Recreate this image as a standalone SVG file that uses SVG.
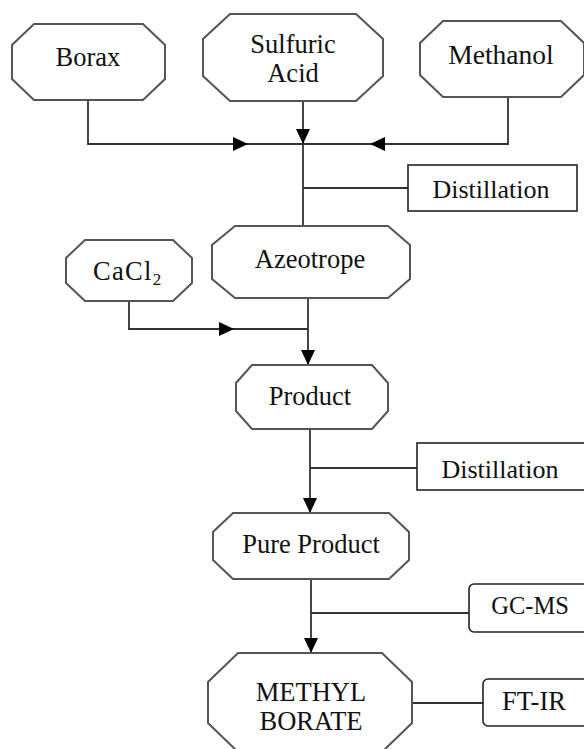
<svg xmlns="http://www.w3.org/2000/svg" width="584" height="749" viewBox="0 0 584 749">
<style>
.oct{fill:#fff;stroke:#555;stroke-width:2}
.box{fill:#fff;stroke:#222;stroke-width:1.6}
.t{font-family:'Liberation Serif','Times New Roman',serif;font-size:26.5px;fill:#111;text-anchor:middle}
.c{fill:none;stroke:#333;stroke-width:1.8}
.ah{fill:#000}
</style>
<rect width="584" height="749" fill="#fff"/>
<g id="connectors">
<path class="c" d="M88,100 V144 H508 V97"/>
<path class="c" d="M303,101 V226"/>
<path class="c" d="M303,188 H408"/>
<path class="c" d="M129,301 V329 H308"/>
<path class="c" d="M308,298 V365"/>
<path class="c" d="M310,429 V513"/>
<path class="c" d="M310,468 H417"/>
<path class="c" d="M311,579 V653"/>
<path class="c" d="M311,613 H469"/>
<path class="c" d="M412,703 H483"/>
<polygon class="ah" points="248,144 233,137 233,151"/>
<polygon class="ah" points="370,144 385,137 385,151"/>
<polygon class="ah" points="303,144 296,129 310,129"/>
<polygon class="ah" points="234,329 219,322 219,336"/>
<polygon class="ah" points="308,365 301,350 315,350"/>
<polygon class="ah" points="310,513 303,498 317,498"/>
<polygon class="ah" points="311,653 304,638 318,638"/>
</g>
<g id="borax">
<polygon class="oct" points="34,24 143,24 165,45 165,79 143,100 34,100 12,79 12,45"/>
<text class="t" x="88" y="66">Borax</text>
</g>
<g id="sulfuric-acid">
<polygon class="oct" points="230,14 356,14 383,39 383,76 356,101 230,101 203,76 203,39"/>
<text class="t" x="293" y="53">Sulfuric</text>
<text class="t" x="293" y="82">Acid</text>
</g>
<g id="methanol">
<polygon class="oct" points="443,21 561,21 584,43 584,75 561,97 443,97 420,75 420,43"/>
<text class="t" x="501" y="64" style="font-size:27.5px">Methanol</text>
</g>
<g id="distillation-1">
<rect class="box" x="408" y="165" width="169" height="46"/>
<text class="t" x="491" y="198" style="font-size:26px">Distillation</text>
</g>
<g id="azeotrope">
<polygon class="oct" points="235,226 388,226 410,245 410,279 388,298 235,298 212,279 212,245"/>
<text class="t" x="310" y="268">Azeotrope</text>
</g>
<g id="cacl2">
<polygon class="oct" points="85,240 173,240 192,258 192,283 173,301 85,301 66,283 66,258"/>
<text class="t" x="93" y="280" style="text-anchor:start;letter-spacing:1.3px">CaCl<tspan dy="5" style="font-size:17px;letter-spacing:0">2</tspan></text>
</g>
<g id="product">
<polygon class="oct" points="252,365 372,365 388,383 388,411 372,429 252,429 236,411 236,383"/>
<text class="t" x="310" y="405">Product</text>
</g>
<g id="distillation-2">
<rect class="box" x="417" y="443" width="180" height="47"/>
<text class="t" x="500" y="478" style="font-size:26px">Distillation</text>
</g>
<g id="pure-product">
<polygon class="oct" points="233,513 389,513 409,532 409,560 389,579 233,579 213,560 213,532"/>
<text class="t" x="311" y="553">Pure Product</text>
</g>
<g id="gc-ms">
<rect class="box" x="469" y="584" width="130" height="48" rx="5"/>
<text class="t" x="530" y="614" style="font-size:24.5px">GC-MS</text>
</g>
<g id="methyl-borate">
<polygon class="oct" points="238,653 382,653 412,682 412,723 382,752 238,752 208,723 208,682"/>
<text class="t" x="311" y="701">METHYL</text>
<text class="t" x="311" y="730">BORATE</text>
</g>
<g id="ft-ir">
<rect class="box" x="483" y="679" width="120" height="47" rx="5"/>
<text class="t" x="534" y="710">FT-IR</text>
</g>
</svg>
